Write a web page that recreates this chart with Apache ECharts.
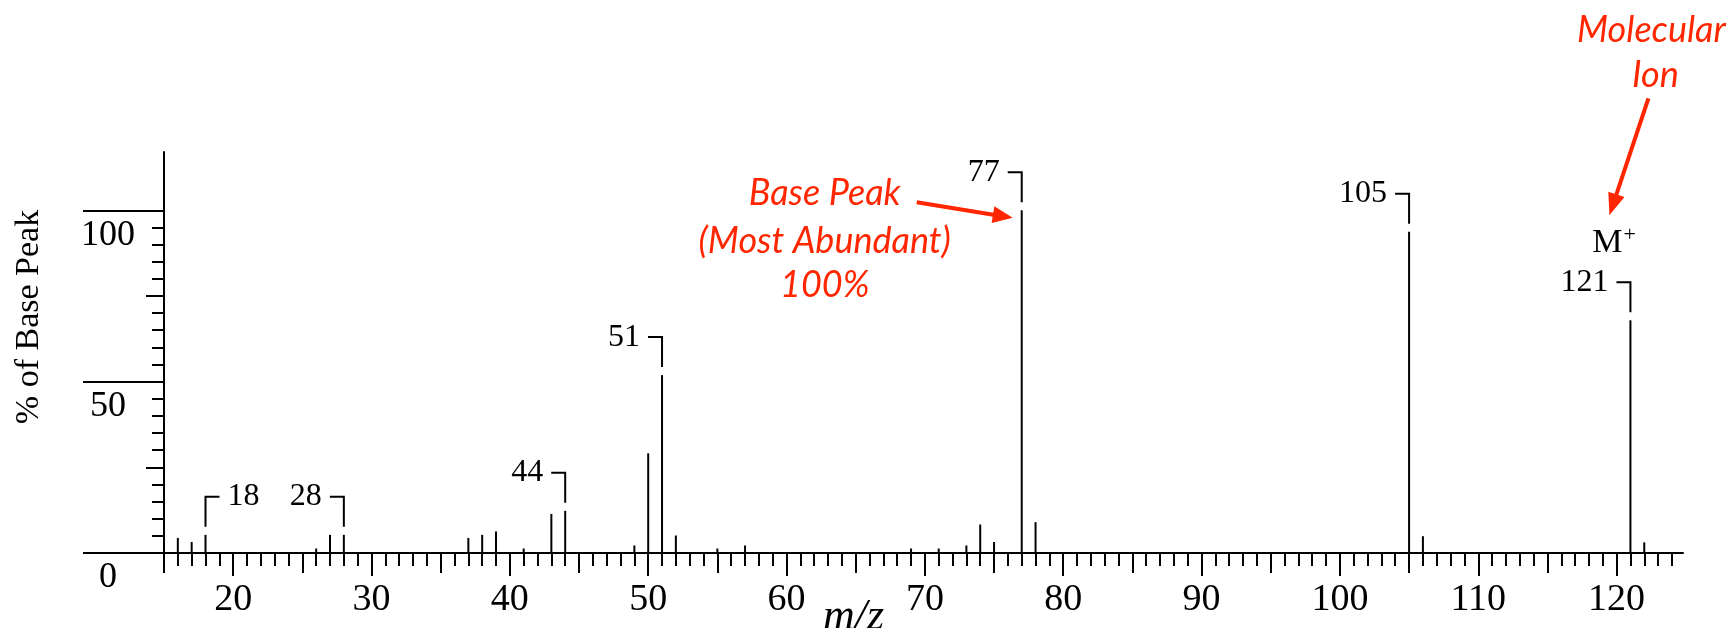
<!DOCTYPE html>
<html>
<head>
<meta charset="utf-8">
<script src="https://cdn.jsdelivr.net/npm/echarts@6/dist/echarts.min.js"></script>
<style>
html,body{margin:0;padding:0;background:#fff;}
#chart{width:1732px;height:628px;}
</style>
</head>
<body>
<div id="chart"></div>
<script>
// ---- data ----
const mz = [16, 17, 18, 26, 27, 28, 37, 38, 39, 41, 43, 44, 49, 50, 51, 52, 55, 57, 69, 71, 73, 74, 75, 77, 78, 105, 106, 121, 122];
const intensity = [4.4, 3.2, 5.3, 1.3, 5.3, 5.3, 4.4, 5.3, 6.3, 1.3, 11.4, 12.3, 2.2, 29.1, 51.9, 5.1, 1.3, 2.2, 1.3, 1.3, 2.2, 8.3, 3.2, 100, 9.0, 93.7, 4.9, 67.9, 3.1];
const labeledMz = [18, 28, 44, 51, 77, 105, 121];
const labelSide = ['right', 'left', 'left', 'left', 'left', 'left', 'left'];
const xMajorTicks = [20, 30, 40, 50, 60, 70, 80, 90, 100, 110, 120];
const xMidTicks = [15, 25, 35, 45, 55, 65, 75, 85, 95, 105, 115];
const yMajorTicks = [0, 50, 100];
const yMidTicks = [25, 75];
const yMinorTicks = [5, 10, 15, 20, 30, 35, 40, 45, 55, 60, 65, 70, 80, 85, 90, 95];
const xMinorTicks = [];
for (let v = 16; v <= 124; v++) { if (v % 5 !== 0) xMinorTicks.push(v); }
const basePeakMz = 77;
const molecularIonMz = 121;

const X_MIN = 15, X_MAX = 124.8, Y_MIN = 0, Y_MAX = 117;
const SERIF = '"Liberation Serif", "Times New Roman", serif';
const RED = '#ff2600';

const peakData = mz.map((m, i) => [m, intensity[i]]);
const labelData = labeledMz.map(m => [m, intensity[mz.indexOf(m)]]);

const chart = echarts.init(document.getElementById('chart'), null, {renderer: 'canvas'});

function xAx(ticks, len, showLine, labels, extra) {
  return Object.assign({
    type: 'value', gridIndex: 0, position: 'bottom', offset: 0,
    min: X_MIN, max: X_MAX,
    axisLine: {show: showLine, lineStyle: {color: '#000', width: 2}},
    axisTick: {show: true, length: len, customValues: ticks, lineStyle: {color: '#000', width: 2}},
    axisLabel: labels ? {show: true, customValues: labels, margin: 28, color: '#000', fontFamily: SERIF, fontSize: 38} : {show: false},
    splitLine: {show: false}
  }, extra || {});
}
function yAx(ticks, len, showLine, labels, extra) {
  return Object.assign({
    type: 'value', gridIndex: 0, position: 'left', offset: 0,
    min: Y_MIN, max: Y_MAX,
    axisLine: {show: showLine, lineStyle: {color: '#000', width: 2}},
    axisTick: {show: true, length: len, customValues: ticks, lineStyle: {color: '#000', width: 2}},
    axisLabel: labels ? {show: true, customValues: labels, margin: 56, align: 'center', verticalAlign: 'top', padding: [7, 0, 0, 0], color: '#000', fontFamily: SERIF, fontSize: 36} : {show: false},
    splitLine: {show: false}
  }, extra || {});
}

const option = {
  animation: false,
  backgroundColor: '#fff',
  grid: {left: 164, top: 152, right: 49, bottom: 75, containLabel: false, outerBoundsMode: 'none'},
  xAxis: [
    xAx(xMinorTicks, 13, true, null),
    xAx(xMidTicks, 20, false, null),
    xAx(xMajorTicks, 23, false, xMajorTicks, {
      name: 'm/z', nameLocation: 'middle', nameGap: 42, nameMoveOverlap: false,
      nameTextStyle: {fontFamily: SERIF, fontStyle: 'italic', fontSize: 44, color: '#000', padding: [0, 140, 0, 0]}
    })
  ],
  yAxis: [
    yAx(yMinorTicks, 12, true, null),
    yAx(yMidTicks, 18, false, null),
    yAx(yMajorTicks, 81, false, yMajorTicks, {
      name: '% of Base Peak', nameLocation: 'middle', nameRotate: 90, nameGap: 118, nameMoveOverlap: false,
      nameTextStyle: {fontFamily: SERIF, fontSize: 34, color: '#000', padding: [0, 0, 0, 71]}
    })
  ],
  series: [
    {
      type: 'bar', xAxisIndex: 0, yAxisIndex: 0,
      data: peakData, barWidth: 2,
      itemStyle: {color: '#000'}, silent: true
    },
    {
      type: 'custom', xAxisIndex: 0, yAxisIndex: 0, silent: true,
      data: labelData, encode: {x: 0, y: 1},
      renderItem: function (params, api) {
        const x = api.value(0), y = api.value(1);
        const side = labelSide[params.dataIndex];
        const p = api.coord([x, y]);
        const bottom = p[1] - 8, top = bottom - 30;
        const dir = side === 'right' ? 1 : -1;
        const hx = p[0] + dir * 14;
        return {
          type: 'group',
          children: [
            {type: 'polyline', shape: {points: [[hx, top], [p[0], top], [p[0], bottom]]},
             style: {stroke: '#000', lineWidth: 2, fill: null}},
            {type: 'text', style: {text: String(x), x: hx + dir * 8, y: top,
             align: side === 'right' ? 'left' : 'right', verticalAlign: 'middle',
             fontFamily: SERIF, fontSize: 32, fill: '#000'}}
          ]
        };
      }
    }
  ]
};
chart.setOption(option);

// ---- annotations anchored to peaks ----
function arrow(x1, y1, x2, y2, L, W) {
  const dx = x2 - x1, dy = y2 - y1, d = Math.hypot(dx, dy);
  const ux = dx / d, uy = dy / d, nx = -uy, ny = ux;
  const bx = x2 - ux * L, by = y2 - uy * L;
  return [
    {type: 'line', shape: {x1: x1, y1: y1, x2: bx + ux * 2, y2: by + uy * 2}, style: {stroke: RED, lineWidth: 4}},
    {type: 'polygon', shape: {points: [[x2, y2], [bx + nx * W, by + ny * W], [bx - nx * W, by - ny * W]]}, style: {fill: RED}}
  ];
}
const pB = chart.convertToPixel({xAxisIndex: 0, yAxisIndex: 0}, [basePeakMz, intensity[mz.indexOf(basePeakMz)]]);
const pM = chart.convertToPixel({xAxisIndex: 0, yAxisIndex: 0}, [molecularIonMz, intensity[mz.indexOf(molecularIonMz)]]);
const SANS = 'Lato, "Open Sans", sans-serif';
function redText(t, x, y) {
  return {type: 'text', style: {text: t, x: x, y: y, align: 'center', verticalAlign: 'middle',
    fontFamily: SANS, fontStyle: 'italic', fontSize: 36, fill: RED}};
}
const g = [];
g.push(redText('Base Peak', pB[0] - 197, pB[1] - 17));
g.push(redText('(Most Abundant)', pB[0] - 197, pB[1] + 31));
g.push(redText('100%', pB[0] - 197, pB[1] + 75));
g.push.apply(g, arrow(pB[0] - 105, pB[1] - 8, pB[0] - 9, pB[1] + 7.6, 20, 8.5));
g.push(redText('Molecular', pM[0] + 21, pM[1] - 290));
g.push(redText('Ion', pM[0] + 25, pM[1] - 245));
g.push.apply(g, arrow(pM[0] + 18, pM[1] - 222, pM[0] - 21, pM[1] - 105, 22, 8.5));
g.push({type: 'text', style: {text: 'M', x: pM[0] - 8, y: pM[1] - 77, align: 'right', verticalAlign: 'middle',
  fontFamily: SERIF, fontSize: 34, fill: '#000'}});
g.push({type: 'text', style: {text: '+', x: pM[0] - 7, y: pM[1] - 85, align: 'left', verticalAlign: 'middle',
  fontFamily: SERIF, fontSize: 22, fill: '#000'}});
chart.setOption({graphic: g});
</script>
</body>
</html>
